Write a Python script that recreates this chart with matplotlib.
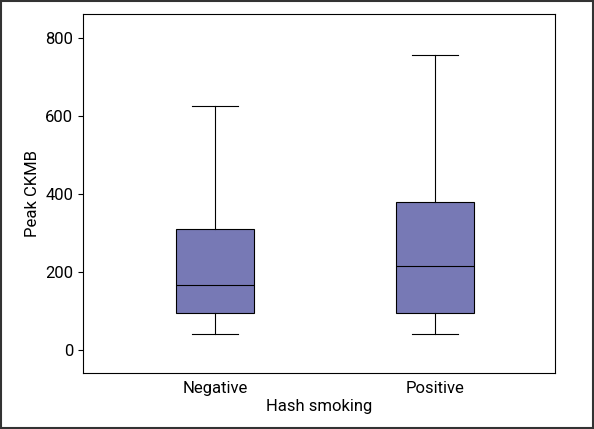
import matplotlib
matplotlib.use("Agg")
import matplotlib.pyplot as plt
from matplotlib.patches import Rectangle

plt.rcParams['font.family'] = ['Liberation Sans Narrow', 'Roboto', 'DejaVu Sans']

categories = ["Negative", "Positive"]
whislo = [42, 42]
q1 = [95, 95]
med = [167, 215]
q3 = [310, 380]
whishi = [625, 755]

stats = [dict(label=c, whislo=a, q1=b, med=m, q3=d, whishi=e, fliers=[])
         for c, a, b, m, d, e in zip(categories, whislo, q1, med, q3, whishi)]

fig = plt.figure(figsize=(5.94, 4.29), dpi=100)
ax = fig.add_axes([83/594, 1-373/429, 472/594, 359/429])
ax.bxp(stats, positions=[1, 2], widths=0.355, patch_artist=True,
       boxprops=dict(facecolor='#7779b5', edgecolor='black', linewidth=0.8),
       medianprops=dict(color='black', linewidth=0.8),
       whiskerprops=dict(color='black', linewidth=0.8),
       capprops=dict(color='black', linewidth=0.8), capwidths=0.21)
ax.set_xlim(0.40, 2.545)
ax.set_ylim(-59, 861)
ax.set_yticks([0, 200, 400, 600, 800])
ax.tick_params(axis='x', length=0, labelsize=12, pad=6)
ax.tick_params(axis='y', labelsize=12)
ax.set_xlabel("Hash smoking", fontsize=12, labelpad=2)
ax.set_ylabel("Peak CKMB", fontsize=12)
for s in ax.spines.values():
    s.set_linewidth(0.8)
fig.patches.append(Rectangle((0.002, 0.002), 0.996, 0.996, transform=fig.transFigure,
                             fill=False, edgecolor='#333333', linewidth=1.5))
fig.savefig("out.png", dpi=100)
